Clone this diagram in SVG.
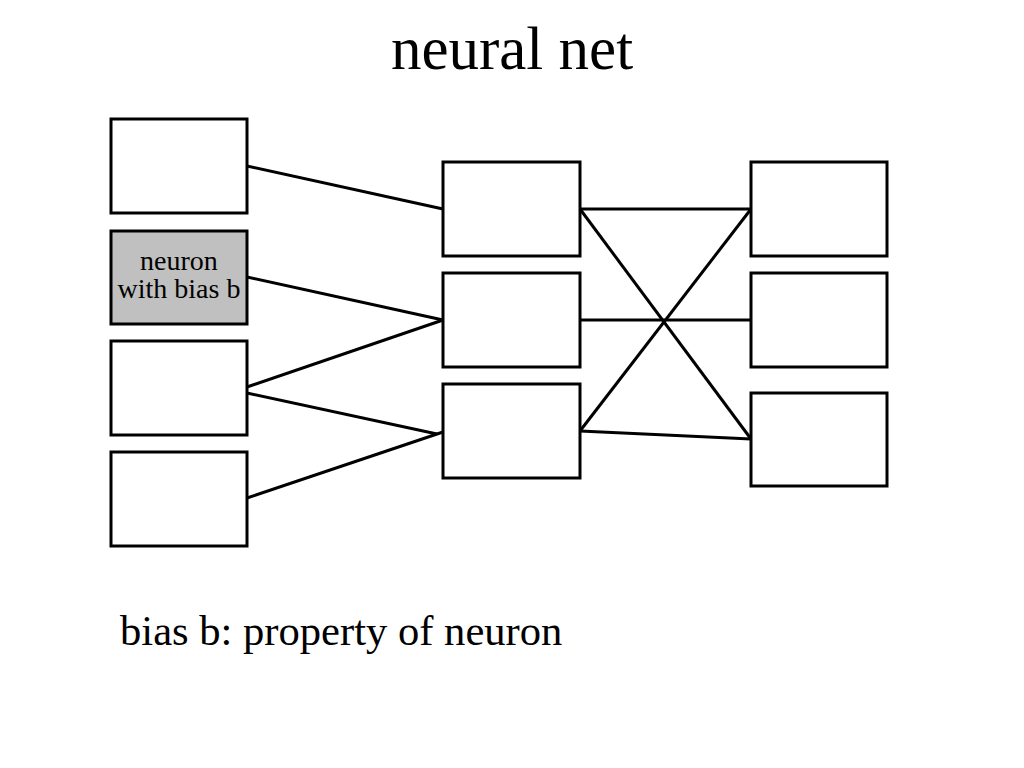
<svg xmlns="http://www.w3.org/2000/svg" width="1024" height="768" viewBox="0 0 1024 768">
<style>
.n{fill:#fff;stroke:#000;stroke-width:3}
.g{fill:#c0c0c0}
.e line{stroke:#000;stroke-width:3}
text{font-family:"Liberation Serif","Times New Roman",serif;fill:#000}
</style>
<rect width="1024" height="768" fill="#fff"/>
<text x="512" y="69" font-size="61" text-anchor="middle">neural net</text>
<g class="e" id="connectors">
<line x1="247" y1="166" x2="443" y2="209"/>
<line x1="247" y1="277" x2="443" y2="320"/>
<line x1="247" y1="387" x2="443" y2="320"/>
<line x1="247" y1="393" x2="437" y2="434"/>
<line x1="247" y1="498" x2="443" y2="432"/>
<line x1="580" y1="209" x2="751" y2="209"/>
<line x1="580" y1="209" x2="751" y2="439"/>
<line x1="580" y1="431" x2="751" y2="209"/>
<line x1="580" y1="320" x2="751" y2="320"/>
<line x1="580" y1="431" x2="751" y2="439"/>
</g>
<g id="in1"><rect class="n" x="111" y="119" width="136" height="94"/></g>
<g id="in2"><rect class="n g" x="111" y="231" width="136" height="93"/>
<text x="179" y="270" font-size="28" text-anchor="middle">neuron</text>
<text x="179" y="298" font-size="28" text-anchor="middle">with bias b</text></g>
<g id="in3"><rect class="n" x="111" y="341" width="136" height="94"/></g>
<g id="in4"><rect class="n" x="111" y="452" width="136" height="94"/></g>
<g id="h1"><rect class="n" x="443" y="162" width="137" height="94"/></g>
<g id="h2"><rect class="n" x="443" y="273" width="137" height="94"/></g>
<g id="h3"><rect class="n" x="443" y="384" width="137" height="94"/></g>
<g id="o1"><rect class="n" x="751" y="162" width="136" height="94"/></g>
<g id="o2"><rect class="n" x="751" y="273" width="136" height="94"/></g>
<g id="o3"><rect class="n" x="751" y="393" width="136" height="93"/></g>
<text x="120" y="645" font-size="42.6">bias b: property of neuron</text>
</svg>
